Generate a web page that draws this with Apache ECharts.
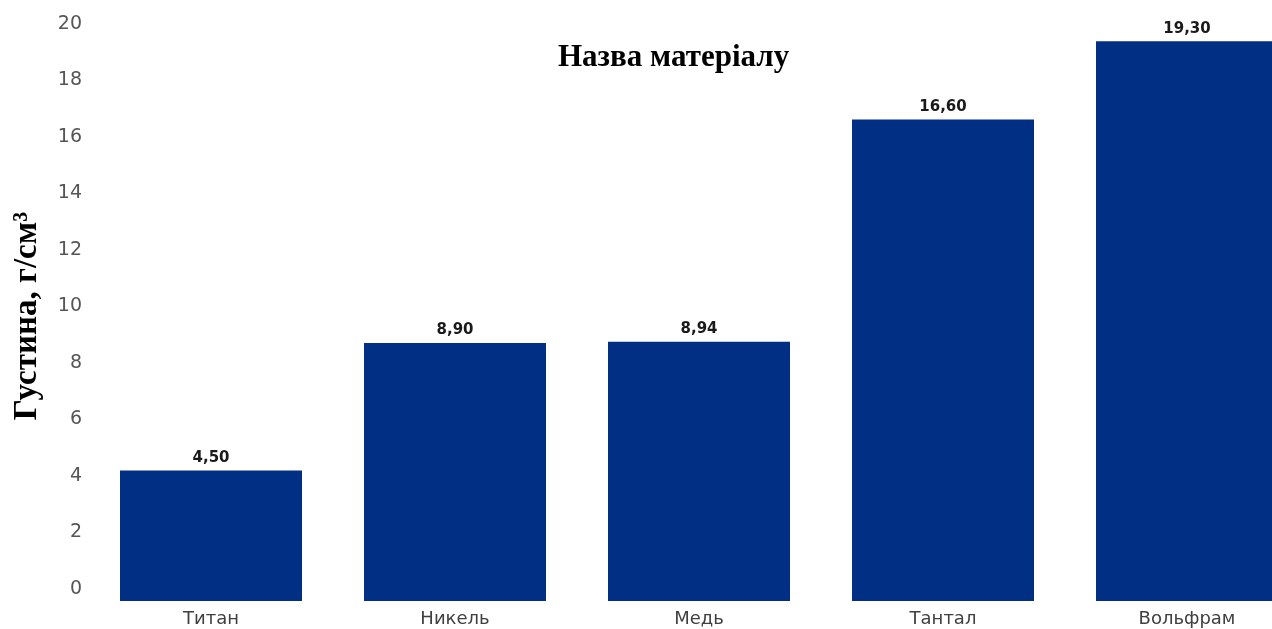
<!DOCTYPE html>
<html>
<head>
<meta charset="utf-8">
<script src="https://cdn.jsdelivr.net/npm/echarts@6/dist/echarts.min.js"></script>
<style>
html,body{margin:0;padding:0;background:#fff;}
#chart{width:1272px;height:629px;}
</style>
</head>
<body>
<div id="chart"></div>
<script>
var categories = ['Титан', 'Никель', 'Медь', 'Тантал', 'Вольфрам'];
var densities = [4.50, 8.90, 8.94, 16.60, 19.30];
var yTicks = [0, 2, 4, 6, 8, 10, 12, 14, 16, 18, 20];
var titleText = 'Назва матеріалу';
var yName = 'Густина, г/см³';

var chart = echarts.init(document.getElementById('chart'), null, {renderer: 'canvas'});
chart.setOption({
  animation: false,
  backgroundColor: '#ffffff',
  title: {
    text: titleText,
    left: 553,
    top: 37,
    textStyle: {fontFamily: 'Liberation Serif', fontWeight: 'bold', fontSize: 31, color: '#000'}
  },
  grid: [
    {left: 89, width: 1220, top: 21, height: 580, outerBoundsMode: 'none', containLabel: false},
    {left: 89, width: 1220, top: 24, height: 565, outerBoundsMode: 'none', containLabel: false}
  ],
  xAxis: [
    {
      type: 'category', gridIndex: 0, data: categories,
      axisLine: {show: false}, axisTick: {show: false},
      axisLabel: {margin: 9, fontFamily: 'DejaVu Sans', fontSize: 18, color: '#404040'}
    },
    {
      type: 'category', gridIndex: 1, data: categories, show: false
    }
  ],
  yAxis: [
    {
      type: 'value', gridIndex: 0, min: yTicks[0], max: yTicks[yTicks.length - 1], interval: 2,
      axisLine: {show: false}, axisTick: {show: false}, splitLine: {show: false},
      axisLabel: {show: false},
      name: yName, nameLocation: 'middle', nameGap: 45,
      nameTextStyle: {fontFamily: 'Liberation Serif', fontWeight: 'bold', fontSize: 33, color: '#000', padding: [0, 10, 0, 0]}
    },
    {
      type: 'value', gridIndex: 1, min: yTicks[0], max: yTicks[yTicks.length - 1], interval: 2,
      axisLine: {show: false}, axisTick: {show: false}, splitLine: {show: false},
      axisLabel: {margin: 7, fontFamily: 'DejaVu Sans', fontSize: 19, color: '#555555'}
    }
  ],
  series: [{
    type: 'bar',
    xAxisIndex: 0, yAxisIndex: 0,
    data: densities,
    barWidth: 182,
    itemStyle: {color: '#002F84'},
    label: {
      show: true, position: 'top', distance: 5,
      fontFamily: 'DejaVu Sans', fontWeight: 'bold', fontSize: 15, color: '#1a1a1a',
      formatter: function (p) { return p.value.toFixed(2).replace('.', ','); }
    }
  }]
});
</script>
</body>
</html>
